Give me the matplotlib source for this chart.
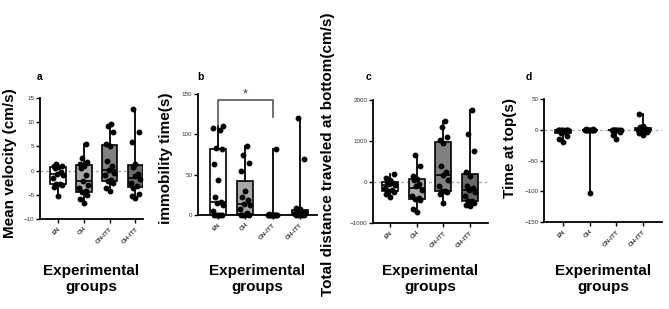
import matplotlib
matplotlib.use("Agg")
import matplotlib.pyplot as plt
import numpy as np

plt.rcParams['font.family'] = ['Liberation Sans', 'DejaVu Sans']

groups = ["EN", "OH", "ON-ITT", "OH-ITT"]

vel_EN = [-5.3, -3.3, -3.0, -2.8, -2.7, -1.5, -1.0, -0.6, -0.3, 0.6, 0.8, 0.9, 1.0, 1.3]
vel_OH = [-6.7, -5.8, -5.0, -4.5, -4.2, -3.5, -3.0, -2.2, -1.0, 0.5, 1.0, 1.4, 1.8, 2.6, 5.5]
vel_ONITT = [-4.3, -3.5, -2.5, -2.2, -2.0, -1.0, -0.5, 0.1, 1.0, 2.0, 5.0, 5.5, 8.0, 9.2, 9.6]
vel_OHITT = [-5.7, -5.2, -4.8, -3.5, -3.1, -2.5, -1.8, -1.2, -0.8, 0.8, 1.3, 6.0, 8.0, 12.7]

imm_EN = [0, 0, 0, 0, 0, 5, 12, 15, 16, 22, 43, 63, 82, 83, 105, 108, 110]
imm_OH = [0, 0, 0, 0, 3, 8, 12, 14, 18, 22, 30, 55, 65, 75, 85]
imm_ONITT = [0, 0, 0, 0, 0, 0, 0, 0, 0, 0, 0.5, 1, 82]
imm_OHITT = [0, 0, 0, 0, 0, 1, 2, 2, 3, 5, 7, 9, 70, 120]

dist_EN = [-370, -300, -250, -230, -200, -150, -80, -60, -30, 0, 50, 100, 190]
dist_OH = [-740, -650, -450, -420, -400, -350, -200, -100, -50, 50, 70, 150, 400, 670]
dist_ONITT = [-505, -300, -250, -230, -210, -100, 50, 170, 250, 400, 950, 1020, 1100, 1350, 1500]
dist_OHITT = [-585, -550, -500, -470, -455, -350, -250, -195, -150, -100, 150, 240, 750, 1180, 1750]

top_EN = [-20, -15, -10, -6, -3, 0, 0, 0, 0, 0, 0, 0, 0]
top_OH = [-103, 0, 0, 0, 0, 0, 0, 0, 0, 0, 0, 1, 2]
top_ONITT = [-15, -8, -4, 0, 0, 0, 0, 0, 0, 0, 0, 0]
top_OHITT = [-8, -5, -3, 0, 0, 0, 0, 0, 2, 4, 6, 25]

panels = [
    dict(letter="a", data=[vel_EN, vel_OH, vel_ONITT, vel_OHITT], ylabel="Mean velocity (cm/s)",
         ylim=(-10, 15), ticks=[-10, -5, 0, 5, 10, 15], pos=[40, 143, 98, 219], xlim=(-0.7, 3.3),
         zero=True, ylx=10, yly=163, lx=40),
    dict(letter="b", data=[imm_EN, imm_OH, imm_ONITT, imm_OHITT], ylabel="immobility time(s)",
         ylim=(0, 150), ticks=[0, 50, 100, 150], pos=[198, 317, 94, 215], xlim=(-0.73, 3.63),
         zero=False, ylx=166, yly=158, lx=200),
    dict(letter="c", data=[dist_EN, dist_OH, dist_ONITT, dist_OHITT], ylabel="Total distance traveled at bottom(cm/s)",
         ylim=(-1000, 2000), ticks=[-1000, 0, 1000, 2000], pos=[373, 488, 100, 223], xlim=(-0.64, 3.67),
         zero=True, ylx=328, yly=154, lx=368),
    dict(letter="d", data=[top_EN, top_OH, top_ONITT, top_OHITT], ylabel="Time at top(s)",
         ylim=(-150, 50), ticks=[-150, -100, -50, 0, 50], pos=[544, 662, 99, 222], xlim=(-0.71, 3.71),
         zero=True, ylx=510, yly=148, lx=529),
]

box_colors = ["white", "#a8a8a8", "#808080", "#686868"]
offsets = [0.0, -0.14, 0.14, -0.07, 0.07, -0.18, 0.18, -0.03, 0.1, -0.1]

W, H = 669, 309
fig = plt.figure(figsize=(W / 100, H / 100), dpi=100)

for p in panels:
    l, r, t, b = p["pos"]
    ax = fig.add_axes([l / W, 1 - b / H, (r - l) / W, (b - t) / H])
    bp = ax.boxplot(p["data"], positions=range(4), widths=0.6, whis=(0, 100), patch_artist=True,
                    showcaps=False, showfliers=False,
                    medianprops=dict(color="black", lw=1.2),
                    whiskerprops=dict(color="black", lw=1.3),
                    boxprops=dict(edgecolor="black", lw=1.2), zorder=2)
    for patch, c in zip(bp["boxes"], box_colors):
        patch.set_facecolor(c)
    for i, vals in enumerate(p["data"]):
        xs = [i + offsets[k % len(offsets)] for k in range(len(vals))]
        ax.plot(xs, vals, "o", color="black", ms=3.2, zorder=4, clip_on=False)
    if p["zero"]:
        ax.axhline(0, color="#aaaaaa", lw=1, ls=(0, (2, 2)), zorder=1)
    ax.set_xlim(*p["xlim"])
    ax.set_ylim(*p["ylim"])
    ax.set_yticks(p["ticks"])
    ax.set_xticks(range(4))
    ax.set_xticklabels(groups, rotation=45, ha="right", rotation_mode="anchor", fontsize=4.5,
                       fontweight="bold", color="#333333")
    ax.tick_params(axis="y", labelsize=4.5, labelcolor="#333333", length=3, width=1, pad=1)
    ax.tick_params(axis="x", length=3, width=1, pad=2)
    for s in ["top", "right"]:
        ax.spines[s].set_visible(False)
    for s in ["left", "bottom"]:
        ax.spines[s].set_linewidth(1.3)
    fig.text(p["ylx"] / W, 1 - p["yly"] / H, p["ylabel"], rotation=90, ha="center", va="center",
             fontsize=11, fontweight="bold")
    fig.text((l + r) / 2 / W, 1 - 279 / H, "Experimental\ngroups", ha="center", va="center",
             fontsize=11, fontweight="bold", linespacing=1.2)
    fig.text(p["lx"] / W, 1 - 77 / H, p["letter"], ha="center", va="center", fontsize=7.5, fontweight="bold")
    if p["letter"] == "b":
        ax.plot([0, 0, 2, 2], [111, 143, 143, 121], color="#555555", lw=1.2, clip_on=False)
        ax.text(1, 150, "*", ha="center", va="center", fontsize=9, color="#333355", clip_on=False)

fig.savefig("out.png", dpi=100)
